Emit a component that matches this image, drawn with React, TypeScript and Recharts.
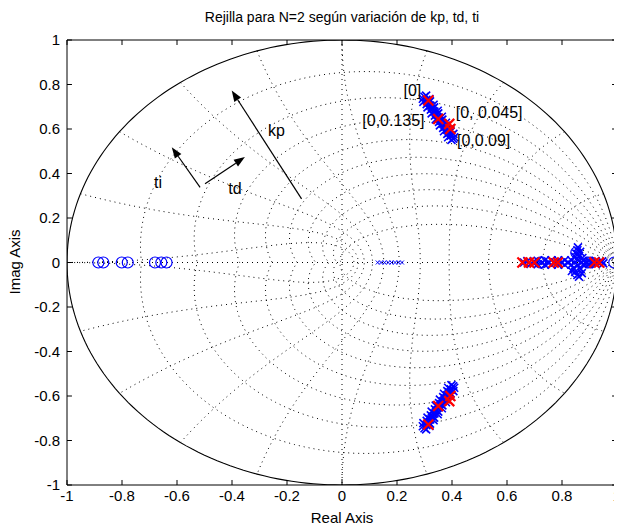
import React from 'react';
import { ComposedChart, Scatter, XAxis, YAxis, ReferenceLine } from 'recharts';

// Axis ticks
const xTicks = [-1, -0.8, -0.6, -0.4, -0.2, 0, 0.2, 0.4, 0.6, 0.8, 1];
const yTicks = [-1, -0.8, -0.6, -0.4, -0.2, 0, 0.2, 0.4, 0.6, 0.8, 1];

// z-plane grid parameters (damping ratios, natural frequencies as fractions of pi/T)
const zetaValues = [0.1, 0.2, 0.3, 0.4, 0.5, 0.6, 0.7, 0.8, 0.9];
const wnValues = [0.1, 0.2, 0.3, 0.4, 0.5, 0.6, 0.7, 0.8, 0.9, 1.0];

// Closed-loop poles as kp, td, ti vary: upper complex branch
const locusUpper = [
  { x: 0.300, y: 0.745 }, { x: 0.307, y: 0.731 }, { x: 0.314, y: 0.719 }, { x: 0.321, y: 0.705 },
  { x: 0.329, y: 0.692 }, { x: 0.336, y: 0.678 }, { x: 0.344, y: 0.665 }, { x: 0.351, y: 0.651 },
  { x: 0.359, y: 0.637 }, { x: 0.366, y: 0.624 }, { x: 0.374, y: 0.610 }, { x: 0.381, y: 0.597 },
  { x: 0.389, y: 0.583 }, { x: 0.396, y: 0.570 }, { x: 0.404, y: 0.556 },
  { x: 0.306, y: 0.750 }, { x: 0.320, y: 0.724 }, { x: 0.335, y: 0.697 }, { x: 0.350, y: 0.670 },
  { x: 0.365, y: 0.642 }, { x: 0.380, y: 0.615 }, { x: 0.395, y: 0.588 }, { x: 0.408, y: 0.563 },
  { x: 0.294, y: 0.736 }, { x: 0.308, y: 0.712 }, { x: 0.323, y: 0.687 }, { x: 0.338, y: 0.660 },
  { x: 0.353, y: 0.632 }, { x: 0.368, y: 0.605 }, { x: 0.383, y: 0.578 }, { x: 0.398, y: 0.551 },
  { x: 0.318, y: 0.735 }, { x: 0.333, y: 0.709 }, { x: 0.348, y: 0.682 }, { x: 0.363, y: 0.655 },
  { x: 0.378, y: 0.628 }, { x: 0.393, y: 0.601 }, { x: 0.405, y: 0.578 },
  { x: 0.296, y: 0.722 }, { x: 0.311, y: 0.697 }, { x: 0.326, y: 0.670 }, { x: 0.341, y: 0.643 },
  { x: 0.356, y: 0.616 }, { x: 0.371, y: 0.590 }, { x: 0.386, y: 0.563 },
];

// Real-axis and near-real poles on the right
const locusReal = [
  { x: 0.662, y: 0 }, { x: 0.674, y: 0.006 }, { x: 0.686, y: -0.006 }, { x: 0.698, y: 0 },
  { x: 0.712, y: 0.008 }, { x: 0.712, y: -0.008 }, { x: 0.727, y: 0 },
  { x: 0.738, y: 0.010 }, { x: 0.738, y: -0.010 }, { x: 0.750, y: 0 },
  { x: 0.762, y: 0.010 }, { x: 0.762, y: -0.010 }, { x: 0.774, y: 0 },
  { x: 0.786, y: 0.010 }, { x: 0.786, y: -0.010 }, { x: 0.798, y: 0 },
  { x: 0.810, y: 0.010 }, { x: 0.810, y: -0.010 }, { x: 0.822, y: 0 },
  { x: 0.834, y: 0.010 }, { x: 0.834, y: -0.010 }, { x: 0.846, y: 0 },
  { x: 0.858, y: 0.010 }, { x: 0.858, y: -0.010 }, { x: 0.870, y: 0 },
  { x: 0.878, y: 0.008 }, { x: 0.878, y: -0.008 },
  { x: 0.848, y: 0.025 }, { x: 0.852, y: 0.040 }, { x: 0.856, y: 0.055 }, { x: 0.858, y: 0.068 },
  { x: 0.862, y: 0.030 }, { x: 0.866, y: 0.048 },
  { x: 0.842, y: -0.025 }, { x: 0.848, y: -0.042 }, { x: 0.856, y: -0.056 }, { x: 0.862, y: -0.064 },
  { x: 0.868, y: -0.030 }, { x: 0.872, y: -0.048 }, { x: 0.836, y: -0.038 }, { x: 0.874, y: 0.020 },
  { x: 0.888, y: 0 }, { x: 0.898, y: 0.007 }, { x: 0.898, y: -0.007 }, { x: 0.910, y: 0 },
  { x: 0.922, y: 0.007 }, { x: 0.922, y: -0.007 }, { x: 0.934, y: 0 }, { x: 0.946, y: 0.005 },
  { x: 0.950, y: -0.004 },
];

// Small poles close to the origin
const polesSmall = [
  { x: 0.130, y: 0 }, { x: 0.142, y: 0 }, { x: 0.155, y: 0 }, { x: 0.168, y: 0 },
  { x: 0.180, y: 0 }, { x: 0.193, y: 0 }, { x: 0.206, y: 0 }, { x: 0.218, y: 0 },
];

// Highlighted poles for the labelled cases
const polesMarkedUpper = [
  { x: 0.314, y: 0.728 }, { x: 0.350, y: 0.645 }, { x: 0.390, y: 0.623 }, { x: 0.394, y: 0.600 },
];
const polesMarkedReal = [
  { x: 0.656, y: 0 }, { x: 0.680, y: 0 }, { x: 0.700, y: 0 },
  { x: 0.770, y: 0 }, { x: 0.785, y: 0 }, { x: 0.918, y: 0 }, { x: 0.935, y: 0 },
];

// Zeros
const zerosLeft = [
  { x: -0.886, y: 0 }, { x: -0.868, y: 0 }, { x: -0.801, y: 0 }, { x: -0.779, y: 0 },
  { x: -0.680, y: 0 }, { x: -0.657, y: 0 }, { x: -0.638, y: 0 },
];
const zerosRight = [
  { x: 0.720, y: 0 }, { x: 0.728, y: 0 }, { x: 0.852, y: 0.045 }, { x: 0.855, y: -0.045 },
  { x: 0.895, y: 0 }, { x: 0.905, y: 0 }, { x: 0.990, y: 0 },
];

// Text annotations
const caseLabels = [
  { x: 0.256, y: 0.773, text: '[0]' },
  { x: 0.535, y: 0.676, text: '[0, 0.045]' },
  { x: 0.187, y: 0.638, text: '[0,0.135]' },
  { x: 0.515, y: 0.548, text: '[0,0.09]' },
  { x: -0.238, y: 0.593, text: 'kp' },
  { x: -0.669, y: 0.360, text: 'ti' },
  { x: -0.389, y: 0.333, text: 'td' },
];

// Direction arrows: tail -> head
const arrows = [
  [{ x: -0.147, y: 0.286 }, { x: -0.401, y: 0.773 }],
  [{ x: -0.516, y: 0.338 }, { x: -0.619, y: 0.518 }],
  [{ x: -0.498, y: 0.354 }, { x: -0.353, y: 0.474 }],
];

const mirror = (pts: { x: number; y: number }[]) => pts.map((p) => ({ x: p.x, y: -p.y }));
const locusPoles = [...locusUpper, ...mirror(locusUpper), ...locusReal];
const polesMarked = [...polesMarkedUpper, ...mirror(polesMarkedUpper), ...polesMarkedReal];
const zeros = [...zerosLeft, ...zerosRight];

// Grid geometry: constant damping spirals and constant natural-frequency curves
const STEPS = 60;
function dampingCurve(zeta: number) {
  const m = Math.tan(Math.asin(zeta));
  const upper = [];
  for (let i = 0; i <= STEPS; i++) {
    const th = (Math.PI * i) / STEPS;
    const r = Math.exp(-m * th);
    upper.push({ x: r * Math.cos(th), y: r * Math.sin(th) });
  }
  return [...upper, ...mirror(upper).reverse()];
}
function frequencyCurve(frac: number) {
  const wn = frac * Math.PI;
  const upper = [];
  for (let i = 0; i <= STEPS; i++) {
    const ph = Math.PI / 2 + (Math.PI / 2) * (i / STEPS);
    const mag = Math.exp(wn * Math.cos(ph));
    const ang = wn * Math.sin(ph);
    upper.push({ x: mag * Math.cos(ang), y: mag * Math.sin(ang) });
  }
  return [...upper, ...mirror(upper).reverse()];
}
function unitCircle() {
  const pts = [];
  for (let i = 0; i <= 240; i++) {
    const th = (2 * Math.PI * i) / 240;
    pts.push({ x: Math.cos(th), y: Math.sin(th) });
  }
  return pts;
}

const BLUE = '#0000ff';
const RED = '#ff0000';
const FONT = 'Arial, "Liberation Sans", Helvetica, sans-serif';

const Empty = () => <g />;

const cross = (cx: number, cy: number, h: number) =>
  `M${cx - h},${cy - h}L${cx + h},${cy + h}M${cx - h},${cy + h}L${cx + h},${cy - h}`;

const BlueCross = (p: any) => <path d={cross(p.cx, p.cy, 4)} stroke={BLUE} strokeWidth={1.6} fill="none" />;
const SmallCross = (p: any) => <path d={cross(p.cx, p.cy, 2)} stroke={BLUE} strokeWidth={1} fill="none" />;
const RedCross = (p: any) => <path d={cross(p.cx, p.cy, 5)} stroke={RED} strokeWidth={2.2} fill="none" />;
const Ring = (p: any) => <circle cx={p.cx} cy={p.cy} r={5.5} stroke={BLUE} strokeWidth={1.2} fill="none" />;
const Label = (p: any) => (
  <text x={p.cx} y={p.cy} textAnchor="middle" dominantBaseline="central" fontSize={16}
    fontFamily={FONT} style={{ fill: '#000' }}>
    {p.payload.text}
  </text>
);
const Arrow = (p: any) => {
  const { x1, y1, x2, y2 } = p;
  const dx = x2 - x1;
  const dy = y2 - y1;
  const len = Math.hypot(dx, dy) || 1;
  const ux = dx / len;
  const uy = dy / len;
  const hl = 11;
  const hw = 4;
  const bx = x2 - ux * hl;
  const by = y2 - uy * hl;
  return (
    <g>
      <line x1={x1} y1={y1} x2={bx} y2={by} stroke="#000" strokeWidth={1.2} />
      <polygon points={`${x2},${y2} ${bx - uy * hw},${by + ux * hw} ${bx + uy * hw},${by - ux * hw}`} fill="#000" />
    </g>
  );
};

const TX = 0.018; // tick length along x (data units)
const TY = 0.0225; // tick length along y (data units)
const fmt = (v: number) => String(v);

export default function App() {
  const dotted = { stroke: '#000', strokeWidth: 1, strokeDasharray: '1 4', fill: 'none' };
  const tickStyle = { fill: '#000', fontSize: 15, fontFamily: FONT };
  return (
    <div style={{ position: 'relative', width: 614, height: 520, fontFamily: FONT, background: '#fff' }}>
      <ComposedChart width={614} height={520} margin={{ top: 32, right: 5, left: 9, bottom: 3 }}>
        <XAxis dataKey="x" type="number" domain={[-1, 1]} ticks={xTicks} allowDataOverflow
          axisLine={false} tickLine={false} tickSize={0} tickMargin={5} height={40} tickFormatter={fmt}
          tick={tickStyle} interval={0} />
        <YAxis dataKey="y" type="number" domain={[-1, 1]} ticks={yTicks} allowDataOverflow
          axisLine={false} tickLine={false} tickSize={0} tickMargin={7} width={50} tickFormatter={fmt}
          tick={tickStyle} interval={0} />

        {zetaValues.map((z) => (
          <Scatter key={`z${z}`} data={dampingCurve(z)} line={dotted} lineType="joint" shape={Empty} isAnimationActive={false} />
        ))}
        {wnValues.map((w) => (
          <Scatter key={`w${w}`} data={frequencyCurve(w)} line={dotted} lineType="joint" shape={Empty} isAnimationActive={false} />
        ))}
        <ReferenceLine x={0} stroke="#000" strokeDasharray="1 4" />
        <ReferenceLine y={0} stroke="#000" strokeDasharray="1 4" />
        <Scatter data={unitCircle()} line={{ stroke: '#000', strokeWidth: 1.1, fill: 'none' }} lineType="joint" shape={Empty} isAnimationActive={false} />

        <ReferenceLine y={-1} stroke="#000" />
        <ReferenceLine y={1} stroke="#000" />
        <ReferenceLine x={-1} stroke="#000" />
        <ReferenceLine x={1} stroke="#000" />
        {xTicks.map((t) => (
          <ReferenceLine key={`xb${t}`} segment={[{ x: t, y: -1 }, { x: t, y: -1 + TY }]} stroke="#000" />
        ))}
        {xTicks.map((t) => (
          <ReferenceLine key={`xt${t}`} segment={[{ x: t, y: 1 }, { x: t, y: 1 - TY }]} stroke="#000" />
        ))}
        {yTicks.map((t) => (
          <ReferenceLine key={`yl${t}`} segment={[{ x: -1, y: t }, { x: -1 + TX, y: t }]} stroke="#000" />
        ))}
        {yTicks.map((t) => (
          <ReferenceLine key={`yr${t}`} segment={[{ x: 1, y: t }, { x: 1 - TX, y: t }]} stroke="#000" />
        ))}

        <Scatter data={zeros} shape={Ring} isAnimationActive={false} />
        <Scatter data={polesSmall} shape={SmallCross} isAnimationActive={false} />
        <Scatter data={locusPoles} shape={BlueCross} isAnimationActive={false} />
        <Scatter data={polesMarked} shape={RedCross} isAnimationActive={false} />

        {arrows.map((seg, i) => (
          <ReferenceLine key={`a${i}`} segment={seg} shape={Arrow} />
        ))}
        <Scatter data={caseLabels} shape={Label} isAnimationActive={false} />
      </ComposedChart>

      <div style={{ position: 'absolute', left: 0, width: 668, top: 1, textAlign: 'center', fontSize: 14, lineHeight: '16px', color: '#000' }}>
        Rejilla para N=2 según variación de kp, td, ti
      </div>
      <div style={{ position: 'absolute', left: 0, width: 668, top: 501, textAlign: 'center', fontSize: 15, lineHeight: '18px', color: '#000' }}>
        Real Axis
      </div>
      <div style={{ position: 'absolute', left: 7 - 60, width: 120, top: 254 - 9, textAlign: 'center', fontSize: 15, lineHeight: '18px', color: '#000', transform: 'rotate(-90deg)' }}>
        Imag Axis
      </div>
    </div>
  );
}
